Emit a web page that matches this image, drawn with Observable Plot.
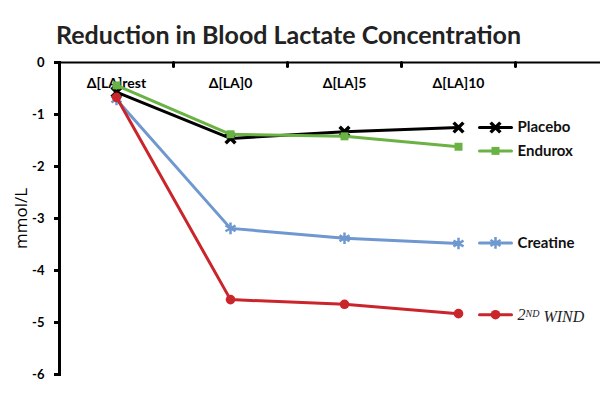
<!DOCTYPE html>
<html><head><meta charset="utf-8">
<script src="https://cdn.jsdelivr.net/npm/d3@7"></script>
<script src="https://cdn.jsdelivr.net/npm/@observablehq/plot@0.6"></script>
<style>
body{margin:0;background:#fff;width:600px;height:399px;position:relative;overflow:hidden;}
#title{position:absolute;left:56px;top:22px;font:bold 25px Lato, sans-serif;line-height:25px;color:#222;white-space:nowrap;}
#chart{position:absolute;left:0;top:50px;}
#chart svg{font-family:Lato, sans-serif;}
g[aria-label="y-axis label"] text{font-weight:normal;font-size:17px;font-family:"Open Sans",sans-serif;}
</style></head><body>
<div id="title">Reduction in Blood Lactate Concentration</div>
<div id="chart"></div>
<script>
const categories = ["Δ[LA]rest", "Δ[LA]0", "Δ[LA]5", "Δ[LA]10"];
const seriesNames = ["Placebo", "Endurox", "Creatine", "2ND WIND"];
const placebo = [-0.57, -1.46, -1.33, -1.25];
const endurox = [-0.44, -1.38, -1.42, -1.62];
const creatine = [-0.71, -3.19, -3.38, -3.48];
const secondWind = [-0.67, -4.56, -4.65, -4.83];
const legendY = [-1.25, -1.70, -3.47, -4.85];
const yTicks = [0, -1, -2, -3, -4, -5, -6];

const seriesValues = [placebo, endurox, creatine, secondWind];
const styles = [
  {color: "#000000", symbol: "times", filled: false, r: 4.5, sw: 3.5},
  {color: "#6ab244", symbol: "square", filled: true, r: 4.5, sw: 1},
  {color: "#6f97d0", symbol: "asterisk", filled: false, r: 5.5, sw: 2.5},
  {color: "#c9252b", symbol: "circle", filled: true, r: 4.8, sw: 1}
];

const lineShape = {draw(ctx, l) { ctx.moveTo(0, 0); ctx.lineTo(0, -l); }};
const last = categories[categories.length - 1];

const marks = [
  Plot.frame({anchor: "left", stroke: "#000", strokeWidth: 3}),
  Plot.ruleY([0], {stroke: "#000", strokeWidth: 2}),
  Plot.vector(categories, {x: d => d, frameAnchor: "top", length: 4, rotate: 180, anchor: "start", dx: 57, shape: lineShape, stroke: "#000", strokeWidth: 3}),
  Plot.axisY({ticks: yTicks, tickSize: 5, tickPadding: 10, strokeWidth: 3, fontSize: 13, fontWeight: "bold", tickFormat: d => d === 0 ? "0" : String(d).replace("−", "-"), label: "mmol/L", labelAnchor: "center", labelOffset: 45, labelArrow: "none", color: "#000"}),
  Plot.text(categories, {x: d => d, frameAnchor: "top", dy: 16, fontSize: 14, fontWeight: "bold", fill: "#000"})
];

seriesNames.forEach((name, i) => {
  const rows = categories.map((c, j) => ({cat: c, value: seriesValues[i][j]}));
  const s = styles[i];
  const dotOpts = s.filled ? {fill: s.color, stroke: "none"} : {stroke: s.color, strokeWidth: s.sw, fill: "none"};
  marks.push(Plot.line(rows, {x: "cat", y: "value", stroke: s.color, strokeWidth: 3}));
  marks.push(Plot.dot(rows, {x: "cat", y: "value", symbol: s.symbol, r: s.r, ...dotOpts}));
  const leg = [{cat: last, value: legendY[i], name}];
  marks.push(Plot.vector(leg, {x: "cat", y: "value", length: 32, rotate: 90, anchor: "start", dx: 21, shape: lineShape, stroke: s.color, strokeWidth: 3}));
  marks.push(Plot.dot(leg, {x: "cat", y: "value", dx: 37, symbol: s.symbol, r: s.r, ...dotOpts}));
  marks.push(Plot.text(leg, {x: "cat", y: "value", text: "name", dx: 59, textAnchor: "start", fontSize: 15, fontWeight: "bold", fill: "#111"}));
});

const chart = Plot.plot({
  width: 600,
  height: 349,
  marginTop: 12,
  marginBottom: 25,
  marginLeft: 59,
  marginRight: 0,
  x: {type: "point", domain: categories, range: [59, 515], padding: 0.5, axis: null},
  y: {domain: [-6, 0], axis: null},
  marks
});
document.getElementById("chart").appendChild(chart);

d3.select(chart).selectAll("text").filter(function() { return this.textContent === "2ND WIND"; }).each(function() {
  const t = d3.select(this);
  t.text(null).attr("font-family", "'Liberation Serif', serif").attr("font-style", "italic").attr("font-weight", "normal").attr("font-size", 16).attr("fill", "#222");
  t.append("tspan").text("2");
  t.append("tspan").attr("font-size", 10).attr("dy", "-0.3em").text("ND");
  t.append("tspan").attr("dy", "0.3em").text(" WIND");
});
</script>
</body></html>
